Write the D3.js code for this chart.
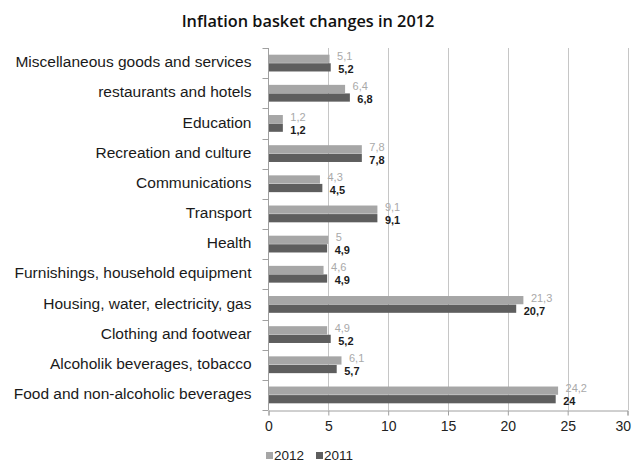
<!DOCTYPE html>
<html>
<head>
<meta charset="utf-8">
<script src="https://cdn.jsdelivr.net/npm/d3@7/dist/d3.min.js"></script>
<style>
  html, body { margin: 0; padding: 0; background: #fff; }
  svg { display: block; }
</style>
</head>
<body>
<svg id="chart" width="632" height="462"></svg>
<script>
// Basket categories, listed top to bottom
const categories = [
  "Miscellaneous goods and services",
  "restaurants and hotels",
  "Education",
  "Recreation and culture",
  "Communications",
  "Transport",
  "Health",
  "Furnishings, household equipment",
  "Housing, water, electricity, gas",
  "Clothing and footwear",
  "Alcoholik beverages, tobacco",
  "Food and non-alcoholic beverages"
];
const series = ["2012", "2011"];
const values2012 = [5.1, 6.4, 1.2, 7.8, 4.3, 9.1, 5, 4.6, 21.3, 4.9, 6.1, 24.2];
const values2011 = [5.2, 6.8, 1.2, 7.8, 4.5, 9.1, 4.9, 4.9, 20.7, 5.2, 5.7, 24];
const xTicks = [0, 5, 10, 15, 20, 25, 30];

const colors = { "2012": "#a6a6a6", "2011": "#5e5e5e" };
const labelColors = { "2012": "#a9a9a9", "2011": "#1c1c1c" };

const rows = categories.map((c, i) => ({
  category: c,
  "2012": values2012[i],
  "2011": values2011[i]
}));

const svg = d3.select("#chart");
const plotLeft = 268.5, plotRight = 627.5, plotTop = 48, plotBottom = 410;

const x = d3.scaleLinear().domain([0, 30]).range([plotLeft, plotRight]);
const y = d3.scaleBand().domain(categories).range([plotTop, plotBottom]).padding(0);
const ySub = d3.scaleBand().domain(series).range([0, y.bandwidth()])
  .paddingInner(0.04).paddingOuter(0.78);

// Title
svg.append("text")
  .attr("x", 308).attr("y", 27)
  .attr("text-anchor", "middle")
  .attr("font-family", "'Open Sans', sans-serif")
  .attr("font-weight", 600)
  .attr("font-size", 16.3)
  .attr("fill", "#111")
  .text("Inflation basket changes in 2012");

// Vertical gridlines
svg.append("g").selectAll("line")
  .data(xTicks.filter(t => t > 0))
  .join("line")
  .attr("x1", d => Math.round(x(d)) + 0.5).attr("x2", d => Math.round(x(d)) + 0.5)
  .attr("y1", plotTop).attr("y2", plotBottom)
  .attr("stroke", "#c6c6c6").attr("stroke-width", 1);

// Bars
const groups = svg.append("g").selectAll("g")
  .data(rows)
  .join("g")
  .attr("transform", d => `translate(0,${y(d.category)})`);

groups.selectAll("rect")
  .data(d => series.map(s => ({ s, v: d[s] })))
  .join("rect")
  .attr("x", x(0))
  .attr("y", d => ySub(d.s))
  .attr("width", d => x(d.v) - x(0))
  .attr("height", ySub.bandwidth())
  .attr("fill", d => colors[d.s]);

// Value labels, nudged apart so the pair does not collide
const fmt = v => String(v).replace(".", ",");
groups.selectAll("text")
  .data(d => series.map(s => ({ s, v: d[s] })))
  .join("text")
  .attr("x", d => x(d.v) + 7.5)
  .attr("y", d => ySub(d.s) + ySub.bandwidth() / 2 + (d.s === "2011" ? 3 : -1.5))
  .attr("dominant-baseline", "middle")
  .attr("font-family", "'Liberation Sans', Arial, sans-serif")
  .attr("font-size", 11)
  .attr("font-weight", d => d.s === "2011" ? 700 : 400)
  .attr("fill", d => labelColors[d.s])
  .text(d => fmt(d.v));

// Left axis: category labels with ticks on band edges
const yAxis = svg.append("g").attr("transform", `translate(${plotLeft},0)`);
yAxis.append("line")
  .attr("x1", 0).attr("x2", 0).attr("y1", plotTop).attr("y2", plotBottom)
  .attr("stroke", "#a0a0a0");
yAxis.selectAll("line.edge")
  .data(categories.map(c => y(c)).concat([plotBottom]))
  .join("line").attr("class", "edge")
  .attr("x1", -6).attr("x2", 0)
  .attr("y1", d => Math.round(d) + 0.5).attr("y2", d => Math.round(d) + 0.5)
  .attr("stroke", "#a0a0a0");
yAxis.selectAll("text")
  .data(categories)
  .join("text")
  .attr("x", -17)
  .attr("y", d => y(d) + y.bandwidth() / 2)
  .attr("dominant-baseline", "middle")
  .attr("text-anchor", "end")
  .attr("font-family", "'Liberation Sans', Arial, sans-serif")
  .attr("font-size", 15.5)
  .attr("fill", "#1a1a1a")
  .text(d => d);

// Bottom axis
const xAxis = svg.append("g")
  .attr("transform", `translate(0,${plotBottom + 0.5})`)
  .call(d3.axisBottom(x).tickValues(xTicks).tickSize(5).tickPadding(6).tickFormat(d3.format("d")));
xAxis.select(".domain").attr("stroke", "#a0a0a0");
xAxis.selectAll(".tick line").attr("stroke", "#a0a0a0");
xAxis.selectAll(".tick text")
  .attr("font-family", "'Liberation Sans', Arial, sans-serif")
  .attr("font-size", 14)
  .attr("fill", "#222");
// keep the last tick label inside the canvas
xAxis.selectAll(".tick text").filter(d => d === 30)
  .attr("text-anchor", "end").attr("dx", 3);

// Legend
const legend = svg.append("g").attr("transform", "translate(266,455)");
const legendX = { "2012": 0, "2011": 50 };
series.forEach(s => {
  const g = legend.append("g").attr("transform", `translate(${legendX[s]},0)`);
  g.append("rect").attr("x", 0).attr("y", -3).attr("width", 7).attr("height", 7).attr("fill", colors[s]);
  g.append("text").attr("x", 8).attr("y", 1)
    .attr("dominant-baseline", "middle")
    .attr("font-family", "'Liberation Sans', Arial, sans-serif")
    .attr("font-size", 13.5)
    .attr("fill", "#222")
    .text(s);
});
</script>
</body>
</html>
